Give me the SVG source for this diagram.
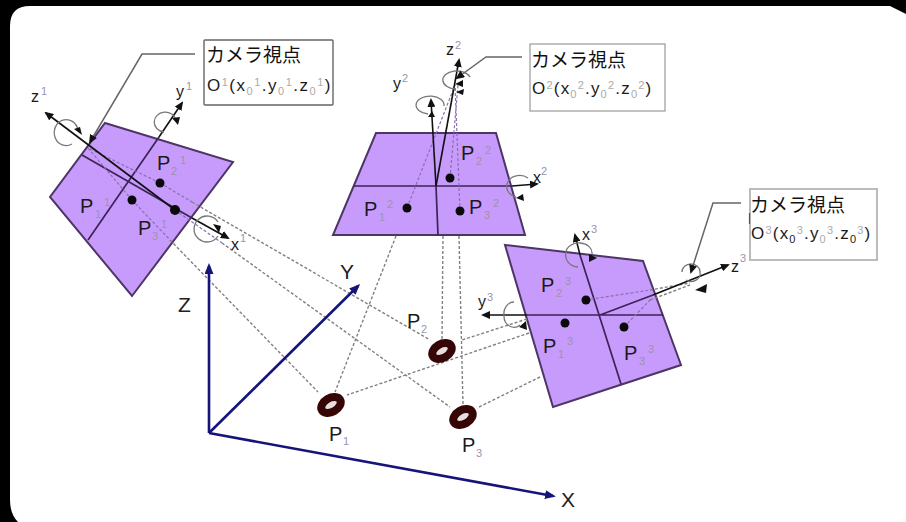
<svg xmlns="http://www.w3.org/2000/svg" width="906" height="522" viewBox="0 0 906 522">
<style>
text{font-family:"Liberation Sans","Noto Sans CJK JP",sans-serif;fill:#1a1a1a}
.p{font-size:20px}.s{font-size:11px;fill:#9d92ac}.c{font-size:19px;fill:#111}.o{font-size:17px}
.u{font-size:11px;fill:#aaa}.d{font-size:11px;fill:#222}
.panel{fill:#c79bfb;stroke:#4d3566;stroke-width:2}
.div{stroke:#3c2358;stroke-width:1.7;fill:none}
.ax{stroke:#111;stroke-width:1.6;fill:none;marker-end:url(#ah)}
.rot{stroke:#777;stroke-width:1.3;fill:none}
.dash{stroke:#808080;stroke-width:1.4;stroke-dasharray:3 2;fill:none}
.faint{stroke:#8b6fb0;stroke-width:1.2;stroke-dasharray:3 2;fill:none}
.lead{stroke:#666;stroke-width:1.5;fill:none;marker-end:url(#ah)}
.dot{fill:#0a0a0a}
.world{stroke:#14147a;stroke-width:2.6;fill:none;marker-end:url(#wh)}
.ring{fill:#e8dcdc;stroke:#360606;stroke-width:8}
.al{font-size:16px}
.l{font-size:21px;fill:#222}
</style>
<defs>
<marker id="ah" markerWidth="9" markerHeight="8" refX="7" refY="4" orient="auto" markerUnits="userSpaceOnUse"><path d="M0 0L9 4L0 8z" fill="#111"/></marker>
<marker id="wh" markerWidth="11" markerHeight="9" refX="8" refY="4.500" orient="auto" markerUnits="userSpaceOnUse"><path d="M0 0L11 4.500L0 9z" fill="#14147a"/></marker>
</defs>
<rect width="906" height="522" fill="#000"/>
<path d="M30,6H890L906,14V522H18Q10,514 10,500V26Q10,6 30,6Z" fill="#fff"/>

<g id="panel-1">
<polygon class="panel" points="105,123 233,162 132,296 50,197"/>
<path class="div" d="M82,155L192,218M159,137L88,240"/>
<text class="p" x="157" y="170">P</text><text class="s" x="171" y="175">2</text><text class="s" x="180" y="164">1</text>
<text class="p" x="80" y="213">P</text><text class="s" x="95" y="218">1</text><text class="s" x="104" y="206">1</text>
<text class="p" x="138" y="235">P</text><text class="s" x="152" y="240">3</text><text class="s" x="161" y="228">1</text>
</g>
<g id="panel-2">
<polygon class="panel" points="376,133 496,133 525,235 333,235"/>
<path class="div" d="M354,186H512M436,186L438,235"/>
<text class="p" x="461" y="160">P</text><text class="s" x="476" y="165">2</text><text class="s" x="485" y="154">2</text>
<text class="p" x="364" y="216">P</text><text class="s" x="379" y="221">1</text><text class="s" x="387" y="208">2</text>
<text class="p" x="469" y="214">P</text><text class="s" x="484" y="219">3</text><text class="s" x="493" y="207">2</text>
</g>
<g id="panel-3">
<polygon class="panel" points="505,245 643,261 681,365 553,407"/>
<path class="div" d="M580,255L621,384M527,315H663M600,315L653,295"/>
<text class="p" x="541" y="292">P</text><text class="s" x="556" y="297">2</text><text class="s" x="565" y="285">3</text>
<text class="p" x="543" y="353">P</text><text class="s" x="558" y="358">1</text><text class="s" x="567" y="345">3</text>
<text class="p" x="624" y="360">P</text><text class="s" x="639" y="365">3</text><text class="s" x="648" y="353">3</text>
</g>

<g id="connectors">
<path class="dash" d="M192,202L430,340M222,243L450,407M170,240L318,392M396,236L335,392M443,236L442,340M459,236L463,405M529,333L347,395M527,319L462,340M540,377L477,408"/>
<path class="faint" d="M407,208L455,85M450,178L458,85M460,211L455,85M160,183L88,148M132,200L88,148M160,183L192,202M175,210L222,243M132,200L170,240M586,300L650,290M624,327L650,300"/>
<path class="dash" d="M650,290L690,283M650,300L690,285"/>
<path class="ax" d="M175,210L46,113"/>
<path class="ax" d="M159,137L182,103"/>
<path class="ax" d="M192,218L228,238"/>
<path class="ax" d="M436,186L431,100"/>
<path class="ax" d="M436,186L459,60"/>
<path class="ax" d="M512,186L537,184"/>
<path class="ax" d="M653,295L728,265"/>
<path class="ax" d="M527,315L483,315"/>
<path class="ax" d="M580,255L575,235"/>
<g class="rot">
<path d="M78,130A12,13 0 1 0 72,144"/>
<path d="M176,120A11,10 0 1 0 164,132"/>
<path d="M218,222A13,13 0 1 0 218,236"/>
<path d="M444,106A14,9 0 1 0 428,114"/>
<path d="M470,77A14,9 0 1 0 456,89"/>
<path d="M528,178A13,11 0 1 0 516,197"/>
<path d="M592,254A13,10 0 0 0 566,252A13,12 0 0 0 578,267"/>
<path d="M514,302A10,12 0 0 0 504,316A10,11 0 0 0 520,325"/>
<path d="M682,272A9,8 0 0 1 700,272A9,8 0 0 1 686,280"/>
</g>
<path d="M74,129l6,-2l2,8zM172,118l8,-1l-2,8zM213,224l8,2l-2,7zM428,117l7,0l-3,-6zM455,84l8,-4l0,7zM456,92l8,-3l-1,6zM516,198l7,-4l1,7zM589,262l0,-8l8,4zM527,330l-8,-3l7,-6zM695,290l12,-6l-1,9z" fill="#111"/>
<path class="lead" d="M195,54H142L90,142"/>
<path class="lead" d="M522,57H486L457,78"/>
<path class="lead" d="M741,203H713L691,272"/>
</g>

<g id="camera-dots" class="dot">
<circle cx="160" cy="183" r="4.500"/><circle cx="132" cy="200" r="4.500"/><circle cx="175" cy="210" r="5"/>
<circle cx="450" cy="178" r="4.500"/><circle cx="407" cy="208" r="4.500"/><circle cx="460" cy="211" r="4.500"/>
<circle cx="586" cy="300" r="4.500"/><circle cx="565" cy="323" r="4.500"/><circle cx="624" cy="327" r="4.500"/>
</g>

<g id="world-axes">
<path class="world" d="M209,433V266"/>
<path class="world" d="M209,433L358,286"/>
<path class="world" d="M209,433L553,496"/>
<text class="l" x="178" y="312">Z</text>
<text class="l" x="340" y="279">Y</text>
<text class="l" x="561" y="507">X</text>
</g>

<g id="point-P1"><ellipse class="ring" cx="331" cy="405" rx="10.500" ry="7" transform="rotate(-30 331 405)"/><text class="p" x="329" y="441">P</text><text class="s" x="343" y="445">1</text></g>
<g id="point-P2"><ellipse class="ring" cx="442" cy="351" rx="10.500" ry="7" transform="rotate(-30 442 351)"/><text class="p" x="407" y="328">P</text><text class="s" x="421" y="333">2</text></g>
<g id="point-P3"><ellipse class="ring" cx="463" cy="417" rx="10.500" ry="7" transform="rotate(-30 463 417)"/><text class="p" x="462" y="452">P</text><text class="s" x="476" y="457">3</text></g>

<g id="axis-labels">
<text class="al" x="31" y="102">z</text><text class="s" x="41" y="95">1</text>
<text class="al" x="176" y="97">y</text><text class="s" x="186" y="90">1</text>
<text class="al" x="231" y="250">x</text><text class="s" x="240" y="242">1</text>
<text class="al" x="446" y="55">z</text><text class="s" x="455" y="49">2</text>
<text class="al" x="393" y="89">y</text><text class="s" x="402" y="82">2</text>
<text class="al" x="533" y="183">x</text><text class="s" x="541" y="175">2</text>
<text class="al" x="731" y="272">z</text><text class="s" x="740" y="262">3</text>
<text class="al" x="478" y="307">y</text><text class="s" x="487" y="301">3</text>
<text class="al" x="582" y="240">x</text><text class="s" x="591" y="233">3</text>
</g>

<g id="callout-1"><rect x="204" y="40" width="129" height="65" rx="1" fill="#fff" stroke="#666" stroke-width="1.400"/>
<text class="c" x="206" y="62">カメラ視点</text>
<text class="o" x="207" y="91" letter-spacing="1.500">O<tspan class="u" dy="-5">1</tspan><tspan dy="5">(x</tspan><tspan class="u" dy="4">0</tspan><tspan class="u" dy="-9">1</tspan><tspan dy="5">.y</tspan><tspan class="u" dy="4">0</tspan><tspan class="u" dy="-9">1</tspan><tspan dy="5">.z</tspan><tspan class="u" dy="4">0</tspan><tspan class="u" dy="-9">1</tspan><tspan dy="5">)</tspan></text></g>
<g id="callout-2"><rect x="530" y="44" width="135" height="67" fill="#fff" stroke="#999" stroke-width="1.200"/>
<text class="c" x="531" y="67">カメラ視点</text>
<text class="o" x="532" y="94" letter-spacing="1.200">O<tspan class="u" dy="-5">2</tspan><tspan dy="5">(x</tspan><tspan class="u" dy="4">0</tspan><tspan class="u" dy="-9">2</tspan><tspan dy="5">.y</tspan><tspan class="u" dy="4">0</tspan><tspan class="u" dy="-9">2</tspan><tspan dy="5">.z</tspan><tspan class="u" dy="4">0</tspan><tspan class="u" dy="-9">2</tspan><tspan dy="5">)</tspan></text></g>
<g id="callout-3"><rect x="750" y="189" width="127" height="71" fill="#fff" stroke="#bbb" stroke-width="2"/>
<path d="M749.500,213V224" stroke="#555" stroke-width="1.200"/>
<text class="c" x="750" y="212">カメラ視点</text>
<text class="o" x="751" y="239" letter-spacing="1.200">O<tspan class="u" dy="-5">3</tspan><tspan dy="5">(x</tspan><tspan class="d" dy="4">0</tspan><tspan class="u" dy="-9">3</tspan><tspan dy="5">.y</tspan><tspan class="u" dy="4">0</tspan><tspan class="u" dy="-9">3</tspan><tspan dy="5">.z</tspan><tspan class="d" dy="4">0</tspan><tspan class="u" dy="-9">3</tspan><tspan dy="5">)</tspan></text></g>
</svg>
